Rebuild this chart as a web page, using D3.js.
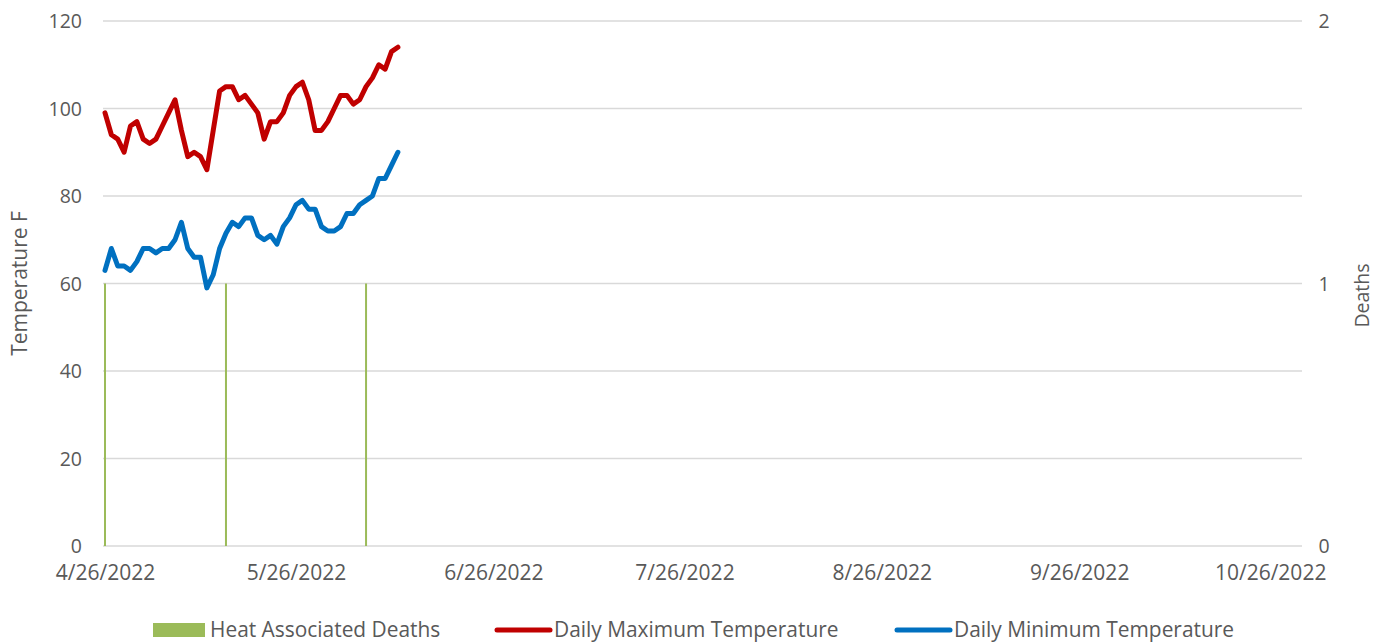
<!DOCTYPE html>
<html>
<head>
<meta charset="utf-8">
<script src="https://cdn.jsdelivr.net/npm/d3@7"></script>
<style>
  html, body { margin: 0; padding: 0; background: #ffffff; }
  svg { display: block; }
  text { font-family: "Open Sans", "Noto Sans", sans-serif; fill: #595959; }
</style>
</head>
<body>
<svg id="chart" width="1385" height="643"></svg>
<script>
// ---------------- DATA ----------------
const startDate = "2022-04-26";
const axisEndDate = "2022-10-31";
const tickLabels = ["4/26/2022", "5/26/2022", "6/26/2022", "7/26/2022", "8/26/2022", "9/26/2022", "10/26/2022"];
const maxTemp = [99, 94, 93, 90, 96, 97, 93, 92, 93, 96,
                 99, 102, 95, 89, 90, 89, 86, 95, 104, 105,
                 105, 102, 103, 101, 99, 93, 97, 97, 99, 103,
                 105, 106, 102, 95, 95, 97, 100, 103, 103, 101,
                 102, 105, 107, 110, 109, 113, 114];
const minTemp = [63, 68, 64, 64, 63, 65, 68, 68, 67, 68,
                 68, 70, 74, 68, 66, 66, 59, 62, 68, 71.5,
                 74, 73, 75, 75, 71, 70, 71, 69, 73, 75,
                 78, 79, 77, 77, 73, 72, 72, 73, 76, 76,
                 78, 79, 80, 84, 84, 87, 90];
const deathDates = ["2022-05-15", "2022-06-06", "2022-04-26"];
const deathCounts = [1, 1, 1];
const leftTicks = [0, 20, 40, 60, 80, 100, 120];
const rightTicks = [0, 1, 2];
const legendLabels = ["Heat Associated Deaths", "Daily Maximum Temperature", "Daily Minimum Temperature"];

// ---------------- SETUP ----------------
const parse = d3.utcParse("%Y-%m-%d");
const parseTick = d3.utcParse("%m/%d/%Y");
const start = parse(startDate);
const dates = maxTemp.map((_, i) => d3.utcDay.offset(start, i));

const svg = d3.select("#chart");
const margin = { left: 105, right: 1302, top: 21, bottom: 546 };
const gridColor = "#D9D9D9";
const textColor = "#595959";

const x = d3.scaleUtc().domain([start, parse(axisEndDate)]).range([margin.left, margin.right]);
const yL = d3.scaleLinear().domain([0, 120]).range([margin.bottom, margin.top]);
const yR = d3.scaleLinear().domain([0, 2]).range([margin.bottom, margin.top]);

// gridlines
svg.append("g").selectAll("line").data(leftTicks).join("line")
  .attr("x1", margin.left - 2).attr("x2", margin.right)
  .attr("y1", d => yL(d)).attr("y2", d => yL(d))
  .attr("stroke", gridColor).attr("stroke-width", 1.3);

// left axis labels
const leftAxis = d3.axisLeft(yL).tickValues(leftTicks).tickSize(0).tickPadding(0);
const gL = svg.append("g").attr("transform", `translate(${margin.left - 23},0)`).call(leftAxis);
gL.select(".domain").remove();
gL.selectAll("text").style("font-family", '"Open Sans", sans-serif').style("font-size", "19.5px").attr("fill", textColor).attr("dy", "0.35em");

// right axis labels
const rightAxis = d3.axisRight(yR).tickValues(rightTicks).tickSize(0).tickPadding(0).tickFormat(d3.format("d"));
const gR = svg.append("g").attr("transform", `translate(${margin.right + 22},0)`).call(rightAxis);
gR.select(".domain").remove();
gR.selectAll("text").style("font-family", '"Open Sans", sans-serif').style("font-size", "19.5px").attr("fill", textColor).attr("text-anchor", "middle").attr("dy", "0.35em");

// bottom axis labels
const bottomAxis = d3.axisBottom(x).tickValues(tickLabels.map(parseTick)).tickSize(0).tickPadding(0)
  .tickFormat((d, i) => tickLabels[i]);
const gB = svg.append("g").attr("transform", `translate(0,${margin.bottom + 19})`).call(bottomAxis);
gB.select(".domain").remove();
gB.selectAll("text").style("font-family", '"Open Sans", sans-serif').style("font-size", "21px").attr("fill", textColor).attr("dy", "0.71em");

// axis titles
svg.append("text").attr("transform", `translate(27,${(margin.top + margin.bottom) / 2}) rotate(-90)`)
  .attr("text-anchor", "middle").style("font-size", "21px").text("Temperature F");
svg.append("text").attr("transform", `translate(1369,${(margin.top + margin.bottom) / 2 + 12}) rotate(-90)`)
  .attr("text-anchor", "middle").style("font-size", "19.5px").text("Deaths");

// deaths bars
svg.append("g").selectAll("rect").data(deathDates.map((d, i) => ({ date: parse(d), v: deathCounts[i] }))).join("rect")
  .attr("x", d => x(d.date) - 1).attr("width", 2)
  .attr("y", d => yR(d.v)).attr("height", d => yR(0) - yR(d.v))
  .attr("fill", "#9BBB59");

// lines
const line = d3.line().x((d, i) => x(dates[i])).y(d => yL(d)).curve(d3.curveLinear);
svg.append("path").datum(maxTemp).attr("d", line)
  .attr("fill", "none").attr("stroke", "#C00000").attr("stroke-width", 5)
  .attr("stroke-linejoin", "round").attr("stroke-linecap", "round");
svg.append("path").datum(minTemp).attr("d", line)
  .attr("fill", "none").attr("stroke", "#0070C0").attr("stroke-width", 5)
  .attr("stroke-linejoin", "round").attr("stroke-linecap", "round");

// legend
const legY = 630;
const leg = svg.append("g");
leg.append("rect").attr("x", 153).attr("y", legY - 7).attr("width", 52).attr("height", 14).attr("fill", "#9BBB59");
leg.append("text").attr("x", 210).attr("y", legY).attr("dy", "0.35em").style("font-size", "20.9px").text(legendLabels[0]);
leg.append("line").attr("x1", 497).attr("x2", 550).attr("y1", legY).attr("y2", legY)
  .attr("stroke", "#C00000").attr("stroke-width", 5).attr("stroke-linecap", "round");
leg.append("text").attr("x", 554).attr("y", legY).attr("dy", "0.35em").style("font-size", "20.9px").text(legendLabels[1]);
leg.append("line").attr("x1", 897).attr("x2", 950).attr("y1", legY).attr("y2", legY)
  .attr("stroke", "#0070C0").attr("stroke-width", 5).attr("stroke-linecap", "round");
leg.append("text").attr("x", 954).attr("y", legY).attr("dy", "0.35em").style("font-size", "20.9px").text(legendLabels[2]);
</script>
</body>
</html>
